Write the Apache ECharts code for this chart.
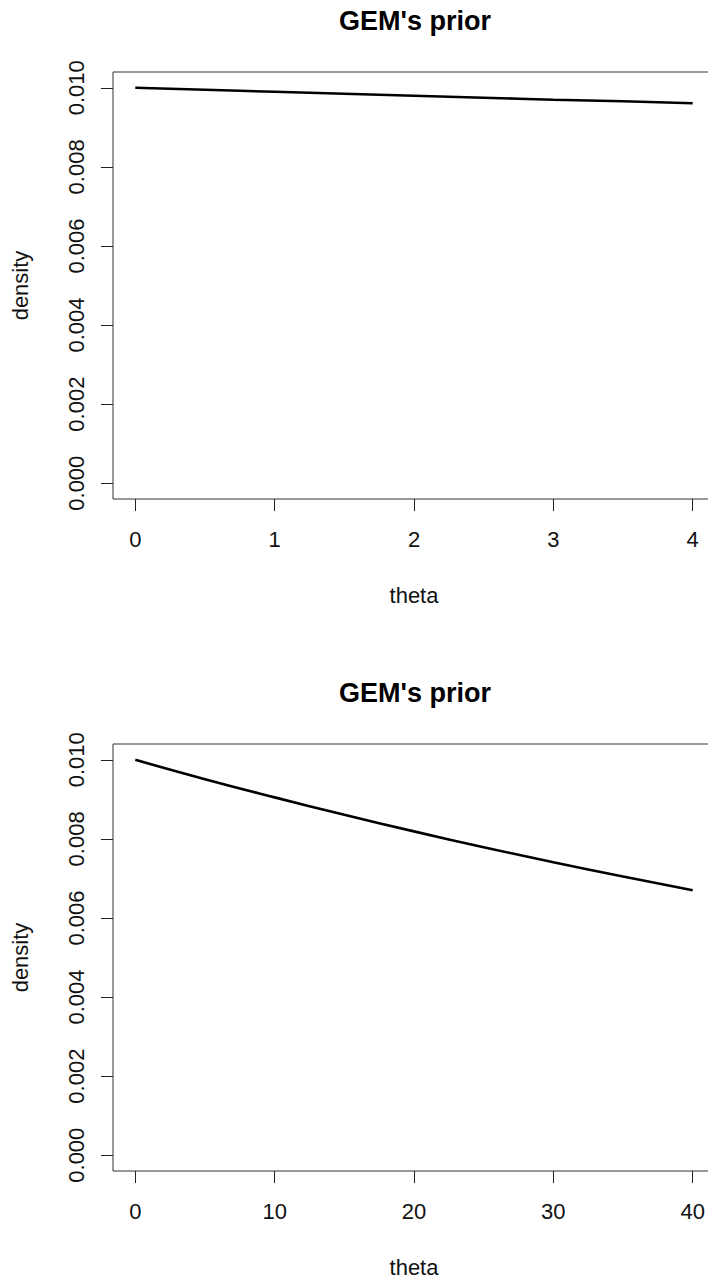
<!DOCTYPE html>
<html>
<head>
<meta charset="utf-8">
<title>GEM's prior</title>
<script src="https://cdn.jsdelivr.net/npm/echarts@6/dist/echarts.min.js"></script>
<style>
  html, body { margin: 0; padding: 0; background: #ffffff; }
  #chart { width: 708px; height: 1281px; }
</style>
</head>
<body>
<div id="chart"></div>
<script>
// Prior density over theta, two ranges
const titleText = "GEM's prior";
const xName = 'theta';
const yName = 'density';

// Upper panel: theta in [0, 4]
const thetaShort = [0, 0.5, 1, 1.5, 2, 2.5, 3, 3.5, 4];
const densityShort = [0.01000, 0.00995, 0.00990, 0.00985, 0.00980, 0.00975, 0.00970, 0.00966, 0.00961];
const xTicksShort = [0, 1, 2, 3, 4];

// Lower panel: theta in [0, 40]
const thetaLong = [0, 5, 10, 15, 20, 25, 30, 35, 40];
const densityLong = [0.01000, 0.00951, 0.00905, 0.00861, 0.00819, 0.00779, 0.00741, 0.00705, 0.00670];
const xTicksLong = [0, 10, 20, 30, 40];

const yTicks = [0, 0.002, 0.004, 0.006, 0.008, 0.010];

const FONT = "'Liberation Sans', Arial, sans-serif";
const INK = '#111111';

function pairs(xs, ys) {
  return xs.map((x, i) => [x, ys[i]]);
}

function xAxisFor(gridIndex, ticks, min, max) {
  return {
    type: 'value', gridIndex, min, max,
    name: xName, nameLocation: 'middle', nameGap: 85,
    nameTextStyle: { fontFamily: FONT, fontSize: 22, color: INK },
    splitLine: { show: false },
    axisLine: { show: false, onZero: false },
    axisTick: { show: true, inside: false, length: 12, customValues: ticks, lineStyle: { color: '#222', width: 1 } },
    axisLabel: {
      customValues: ticks, margin: 29,
      fontFamily: FONT, fontSize: 22, color: INK,
      formatter: v => String(v)
    }
  };
}

function yAxisFor(gridIndex) {
  return {
    type: 'value', gridIndex, min: -0.0004, max: 0.0104,
    name: yName, nameLocation: 'middle', nameGap: 82, nameRotate: 90,
    nameTextStyle: { fontFamily: FONT, fontSize: 22, color: INK },
    splitLine: { show: false },
    axisLine: { show: false, onZero: false },
    axisTick: { show: true, inside: false, length: 12, customValues: yTicks, lineStyle: { color: '#222', width: 1 } },
    axisLabel: {
      customValues: yTicks, rotate: 90, margin: 26,
      fontFamily: FONT, fontSize: 22, color: INK,
      formatter: v => v.toFixed(3)
    }
  };
}

// Plot box; the right edge runs past the canvas
const gridStyle = {
  show: true, borderColor: '#333', borderWidth: 1, backgroundColor: 'transparent',
  outerBoundsMode: 'none', containLabel: false
};

const option = {
  animation: false,
  backgroundColor: '#ffffff',
  title: [
    { text: titleText, left: 410, top: 2, textAlign: 'center',
      textStyle: { fontFamily: FONT, fontSize: 27, fontWeight: 'bold', color: '#000' } },
    { text: titleText, left: 410, top: 674, textAlign: 'center',
      textStyle: { fontFamily: FONT, fontSize: 27, fontWeight: 'bold', color: '#000' } }
  ],
  grid: [
    Object.assign({ left: 113, top: 72, width: 602, height: 427 }, gridStyle),
    Object.assign({ left: 113, top: 744, width: 602, height: 427 }, gridStyle)
  ],
  xAxis: [
    xAxisFor(0, xTicksShort, -0.16, 4.16),
    xAxisFor(1, xTicksLong, -1.6, 41.6)
  ],
  yAxis: [yAxisFor(0), yAxisFor(1)],
  series: [
    { type: 'line', xAxisIndex: 0, yAxisIndex: 0, data: pairs(thetaShort, densityShort),
      smooth: true, showSymbol: false, lineStyle: { color: '#000', width: 2.6 } },
    { type: 'line', xAxisIndex: 1, yAxisIndex: 1, data: pairs(thetaLong, densityLong),
      smooth: true, showSymbol: false, lineStyle: { color: '#000', width: 2.6 } }
  ]
};

const chart = echarts.init(document.getElementById('chart'), null, { renderer: 'svg' });
chart.setOption(option);
</script>
</body>
</html>
